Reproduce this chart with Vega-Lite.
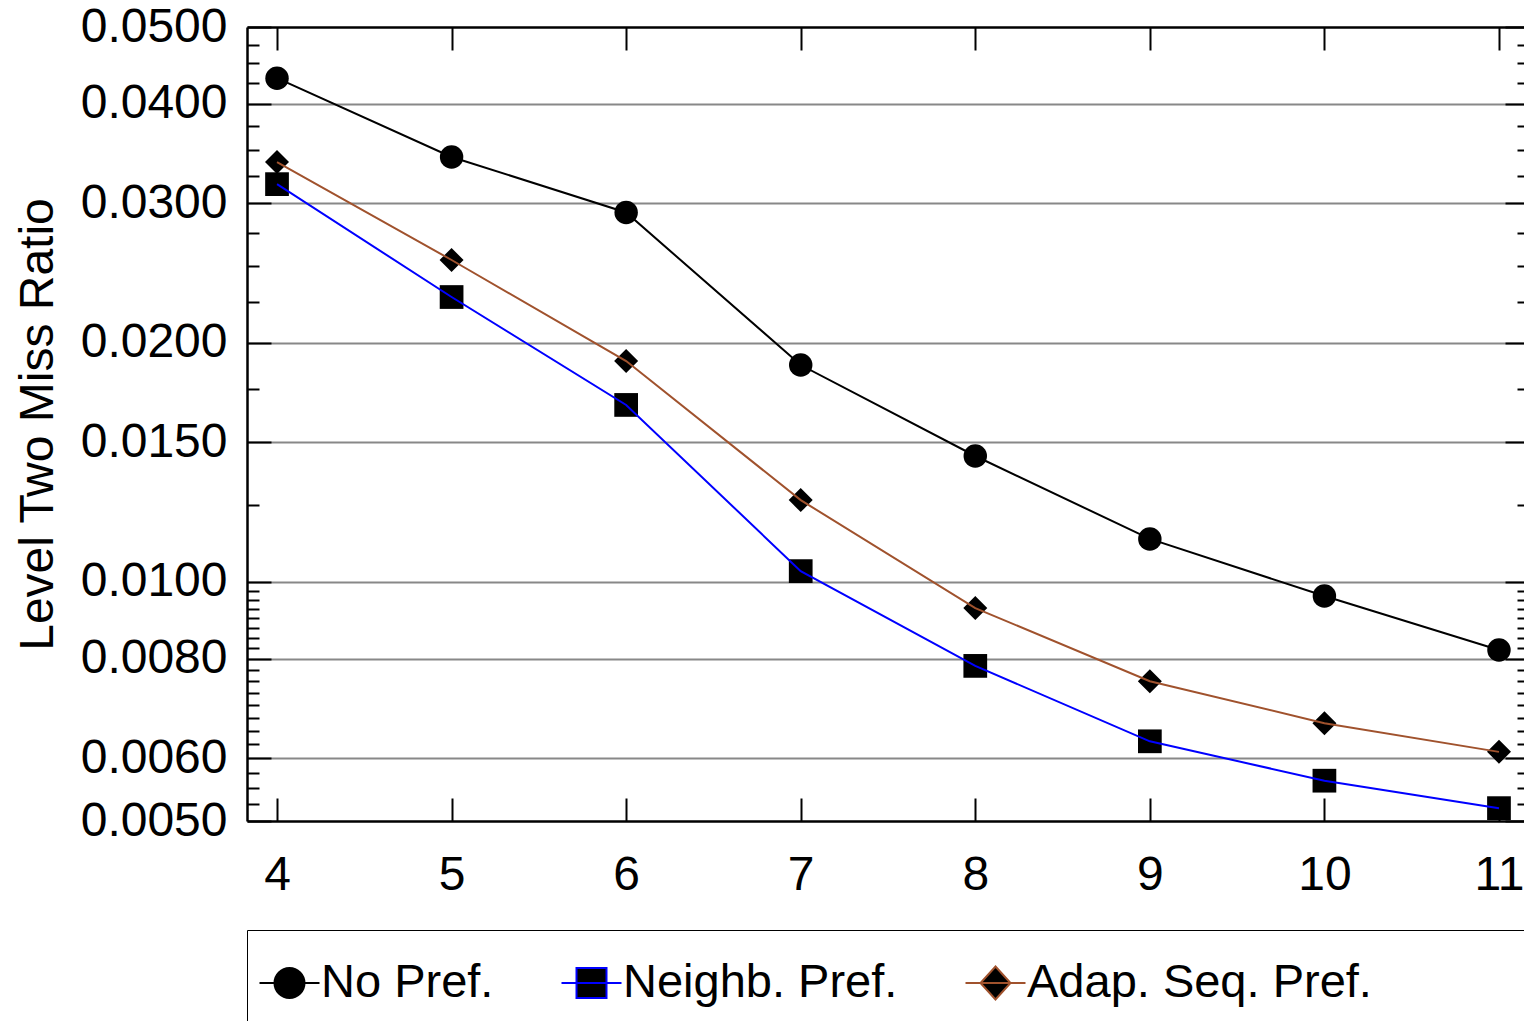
{
  "$schema": "https://vega.github.io/schema/vega-lite/v6.json",
  "width": 1282,
  "height": 794,
  "autosize": {"type": "none"},
  "padding": {"left": 247, "top": 27, "right": 0, "bottom": 200},
  "background": "white",
  "config": {
    "view": {"stroke": null},
    "font": "Liberation Sans",
    "axis": {
      "labelFont": "Liberation Sans",
      "labelFontSize": 48,
      "labelColor": "black",
      "titleFont": "Liberation Sans",
      "titleFontSize": 48,
      "titleFontWeight": "normal",
      "titleColor": "black",
      "domainColor": "black",
      "tickColor": "black",
      "labelOverlap": false,
      "labelFlush": false,
      "labelLimit": 0
    }
  },
  "data": {
    "values": [
      {"n": 4, "series": "No Pref.", "ratio": 0.0431},
      {"n": 5, "series": "No Pref.", "ratio": 0.0343},
      {"n": 6, "series": "No Pref.", "ratio": 0.0292},
      {"n": 7, "series": "No Pref.", "ratio": 0.01876},
      {"n": 8, "series": "No Pref.", "ratio": 0.01441},
      {"n": 9, "series": "No Pref.", "ratio": 0.01133},
      {"n": 10, "series": "No Pref.", "ratio": 0.0096},
      {"n": 11, "series": "No Pref.", "ratio": 0.00821},
      {"n": 4, "series": "Neighb. Pref.", "ratio": 0.0317},
      {"n": 5, "series": "Neighb. Pref.", "ratio": 0.02285},
      {"n": 6, "series": "Neighb. Pref.", "ratio": 0.01671},
      {"n": 7, "series": "Neighb. Pref.", "ratio": 0.01032},
      {"n": 8, "series": "Neighb. Pref.", "ratio": 0.00784},
      {"n": 9, "series": "Neighb. Pref.", "ratio": 0.0063},
      {"n": 10, "series": "Neighb. Pref.", "ratio": 0.00562},
      {"n": 11, "series": "Neighb. Pref.", "ratio": 0.00519},
      {"n": 4, "series": "Adap. Seq. Pref.", "ratio": 0.0338},
      {"n": 5, "series": "Adap. Seq. Pref.", "ratio": 0.02544},
      {"n": 6, "series": "Adap. Seq. Pref.", "ratio": 0.01898},
      {"n": 7, "series": "Adap. Seq. Pref.", "ratio": 0.01268},
      {"n": 8, "series": "Adap. Seq. Pref.", "ratio": 0.00927},
      {"n": 9, "series": "Adap. Seq. Pref.", "ratio": 0.0075},
      {"n": 10, "series": "Adap. Seq. Pref.", "ratio": 0.00664},
      {"n": 11, "series": "Adap. Seq. Pref.", "ratio": 0.00611}
    ]
  },
  "layer": [
    {
      "mark": {"type": "point", "filled": true, "fill": "black", "opacity": 1, "strokeWidth": 0},
      "encoding": {
        "x": {
          "field": "n", "type": "quantitative",
          "scale": {"domain": [3.828, 11.172], "nice": false, "zero": false},
          "axis": {"orient": "bottom", "values": [4, 5, 6, 7, 8, 9, 10, 11], "ticks": false, "domain": true, "domainWidth": 2.5, "grid": false, "labelPadding": 30, "title": null}
        },
        "y": {
          "field": "ratio", "type": "quantitative",
          "scale": {"type": "log", "domain": [0.005, 0.05], "nice": false},
          "axis": {
            "orient": "left",
            "values": [0.005, 0.006, 0.008, 0.01, 0.015, 0.02, 0.03, 0.04, 0.05],
            "format": ".4f",
            "ticks": false,
            "domain": true,
            "domainWidth": 2.5,
            "grid": true,
            "gridColor": {"condition": {"test": "datum.value < 0.0051 || datum.value > 0.049", "value": "transparent"}, "value": "#888888"},
            "gridWidth": 2,
            "labelPadding": 20,
            "title": "Level Two Miss Ratio",
            "titlePadding": 18
          }
        },
        "shape": {"field": "series", "type": "nominal", "scale": {"domain": ["No Pref.", "Neighb. Pref.", "Adap. Seq. Pref."], "range": ["circle", "square", "diamond"]}, "legend": null},
        "size": {"field": "series", "type": "nominal", "scale": {"domain": ["No Pref.", "Neighb. Pref.", "Adap. Seq. Pref."], "range": [550, 576, 506]}, "legend": null}
      }
    },
    {
      "mark": {"type": "line", "strokeWidth": 2},
      "encoding": {
        "x": {
          "field": "n", "type": "quantitative",
          "axis": {"orient": "top", "offset": -794, "values": [4, 5, 6, 7, 8, 9, 10, 11], "labels": false, "domain": false, "grid": false, "tickSize": 23, "tickWidth": 2, "title": null}
        },
        "y": {
          "field": "ratio", "type": "quantitative",
          "axis": {
            "orient": "right", "offset": -1282,
            "values": [0.005, 0.00525, 0.0055, 0.00575, 0.006, 0.00625, 0.0065, 0.00675, 0.007, 0.00725, 0.0075, 0.00775, 0.008, 0.00825, 0.0085, 0.00875, 0.009, 0.00925, 0.0095, 0.00975, 0.01, 0.0125, 0.015, 0.0175, 0.02, 0.0225, 0.025, 0.0275, 0.03, 0.0325, 0.035, 0.0375, 0.04, 0.0425, 0.045, 0.0475, 0.05],
            "labels": false, "domain": false, "grid": false,
            "tickSize": {"condition": {"test": "indexof([0.005, 0.006, 0.008, 0.01, 0.015, 0.02, 0.03, 0.04, 0.05], datum.value) >= 0", "value": 24}, "value": 12},
            "tickWidth": 2, "title": null
          }
        },
        "color": {"field": "series", "type": "nominal", "scale": {"domain": ["No Pref.", "Neighb. Pref.", "Adap. Seq. Pref."], "range": ["#000000", "#0000ff", "#a0522d"]}, "legend": null}
      }
    },
    {
      "mark": {"type": "point", "filled": true, "fill": "black", "opacity": 0, "size": 100},
      "encoding": {
        "x": {
          "field": "n", "type": "quantitative",
          "axis": {"orient": "bottom", "offset": -794, "values": [4, 5, 6, 7, 8, 9, 10, 11], "labels": false, "domain": true, "domainWidth": 2.5, "grid": false, "tickSize": 23, "tickWidth": 2, "title": null}
        },
        "y": {
          "field": "ratio", "type": "quantitative",
          "axis": {
            "orient": "left", "offset": -1282,
            "values": [0.005, 0.00525, 0.0055, 0.00575, 0.006, 0.00625, 0.0065, 0.00675, 0.007, 0.00725, 0.0075, 0.00775, 0.008, 0.00825, 0.0085, 0.00875, 0.009, 0.00925, 0.0095, 0.00975, 0.01, 0.0125, 0.015, 0.0175, 0.02, 0.0225, 0.025, 0.0275, 0.03, 0.0325, 0.035, 0.0375, 0.04, 0.0425, 0.045, 0.0475, 0.05],
            "labels": false, "domain": true, "domainWidth": 2.5, "grid": false,
            "tickSize": {"condition": {"test": "indexof([0.005, 0.006, 0.008, 0.01, 0.015, 0.02, 0.03, 0.04, 0.05], datum.value) >= 0", "value": 24}, "value": 12},
            "tickWidth": 2, "title": null
          }
        },
        "stroke": {
          "field": "series", "type": "nominal",
          "scale": {"domain": ["No Pref.", "Neighb. Pref.", "Adap. Seq. Pref."], "range": ["#000000", "#0000ff", "#a0522d"]},
          "legend": {
            "orient": "none", "legendX": 0, "legendY": 903, "direction": "horizontal", "columns": 3, "columnPadding": 63,
            "padding": 22, "strokeColor": "black", "fillColor": "white",
            "labelFont": "Liberation Sans", "labelFontSize": 47, "labelColor": "black", "labelOffset": -10, "labelLimit": 0,
            "symbolSize": 3600, "symbolStrokeWidth": 2, "symbolOpacity": 1, "symbolFillColor": "black",
            "title": " ", "titleOrient": "right", "titlePadding": 200,
            "encode": {"legend": {"strokeWidth": {"value": 2}}, "symbols": {"fill": {"value": "black"}, "opacity": {"value": 1}, "fillOpacity": {"value": 1}, "strokeOpacity": {"value": 1}, "strokeWidth": {"value": 2}}}
          }
        },
        "shape": {
          "field": "series", "type": "nominal",
          "scale": {"domain": ["No Pref.", "Neighb. Pref.", "Adap. Seq. Pref."], "range": ["M-1.35,0H0.65M0.15,0A0.5,0.5,0,1,1,-0.85,0A0.5,0.5,0,1,1,0.15,0Z", "M-1.35,0H0.65M-0.85,-0.5H0.15V0.5H-0.85Z", "M-1.35,0H0.65M-0.35,-0.55L0.15,0L-0.35,0.55L-0.85,0Z"]},
          "legend": {
            "orient": "none", "legendX": 0, "legendY": 903, "direction": "horizontal", "columns": 3, "columnPadding": 63,
            "padding": 22, "strokeColor": "black", "fillColor": "white",
            "labelFont": "Liberation Sans", "labelFontSize": 47, "labelColor": "black", "labelOffset": -10, "labelLimit": 0,
            "symbolSize": 3600, "symbolStrokeWidth": 2, "symbolOpacity": 1, "symbolFillColor": "black",
            "title": " ", "titleOrient": "right", "titlePadding": 200,
            "encode": {"legend": {"strokeWidth": {"value": 2}}, "symbols": {"fill": {"value": "black"}, "opacity": {"value": 1}, "fillOpacity": {"value": 1}, "strokeOpacity": {"value": 1}, "strokeWidth": {"value": 2}}}
          }
        }
      }
    }
  ],
  "resolve": {
    "axis": {"x": "independent", "y": "independent"},
    "scale": {"shape": "independent", "stroke": "independent"}
  }
}
